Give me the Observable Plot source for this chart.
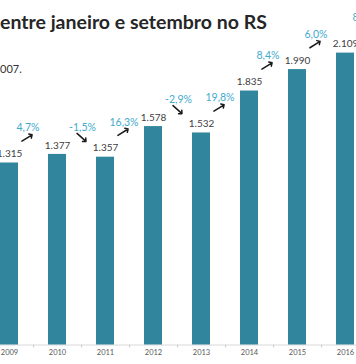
<!DOCTYPE html>
<html>
<head>
<meta charset="utf-8">
<script src="https://cdn.jsdelivr.net/npm/d3@7"></script>
<script src="https://cdn.jsdelivr.net/npm/@observablehq/plot@0.6"></script>
<style>
  html, body { margin: 0; padding: 0; background: #fff; }
  #wrap { position: relative; width: 356px; height: 364px; overflow: hidden; }
  #chart { position: absolute; left: 0; top: 0; }
  .title { position: absolute; left: 0; top: 12.3px; font-family: Lato, sans-serif; font-weight: 700; font-size: 19.5px; line-height: 19.5px; color: #262626; white-space: nowrap; }
  .subtitle { position: absolute; left: 0; top: 63.2px; font-family: Lato, sans-serif; font-size: 11px; line-height: 11px; color: #333; white-space: nowrap; }
</style>
</head>
<body>
<div id="wrap">
  <div id="chart"></div>
  <div class="title">entre janeiro e setembro no RS</div>
  <div class="subtitle">007.</div>
</div>
<script>
const years = [2009, 2010, 2011, 2012, 2013, 2014, 2015, 2016];
const counts = [1315, 1377, 1357, 1578, 1532, 1835, 1990, 2109];
const growthYears = [2010, 2011, 2012, 2013, 2014, 2015, 2016, 2017];
const growthPct = [4.7, -1.5, 16.3, -2.9, 19.8, 8.4, 6.0, 8.5];

const bars = years.map((year, i) => ({year, count: counts[i]}));
const growth = growthYears.map((year, i) => ({year, pct: growthPct[i], base: counts[i]}));
const pos = growth.filter(d => d.pct >= 0);
const neg = growth.filter(d => d.pct < 0);

const fmtCount = v => d3.format(",")(v).replace(/,/g, ".");
const fmtPct = v => (v < 0 ? "-" : "") + Math.abs(v).toFixed(1).replace(".", ",") + "%";

const teal = "#31859C";
const cyan = "#42aacd";

const chart = Plot.plot({
  width: 356,
  height: 364,
  marginLeft: 0,
  marginRight: 0,
  marginTop: 0,
  marginBottom: 19.5,
  style: {fontFamily: "Lato, sans-serif", overflow: "hidden", background: "transparent"},
  x: {type: "band", domain: [...years, 2017], range: [-15.73, 418.6], paddingInner: 0.62, paddingOuter: 0.31},
  y: {domain: [0, 2109], range: [344.5, 52.6], axis: null},
  marks: [
    Plot.ruleY([0], {stroke: "#d9d9d9"}),
    Plot.barY(bars, {x: "year", y: "count", fill: teal}),
    Plot.text(bars, {x: "year", y: "count", text: d => fmtCount(d.count), dy: -9, fill: "#404040", fontSize: 10}),
    Plot.text(pos, {x: "year", y: "base", text: d => fmtPct(d.pct), dx: -29.5, dy: -35, fill: cyan, fontSize: 10.5}),
    Plot.text(neg, {x: "year", y: "base", text: d => fmtPct(d.pct), dx: -23, dy: -27, fill: cyan, fontSize: 10.5}),
    Plot.vector(pos, {x: "year", y: "base", dx: -30.5, dy: -25, length: 12, rotate: 58, anchor: "middle", stroke: "#1a1a1a", strokeWidth: 1.5}),
    Plot.vector(neg, {x: "year", y: "base", dx: -24, dy: -17, length: 12, rotate: 132, anchor: "middle", stroke: "#1a1a1a", strokeWidth: 1.5}),
    Plot.axisX({ticks: years, tickSize: 0, tickPadding: 5, tickFormat: d => String(d), fontSize: 7.5, color: "#595959", label: null}),
    Plot.axisX({ticks: years, tickSize: 3, tickFormat: () => "", dx: 24.13, color: "#cccccc", label: null})
  ]
});
document.getElementById("chart").appendChild(chart);
</script>
</body>
</html>
